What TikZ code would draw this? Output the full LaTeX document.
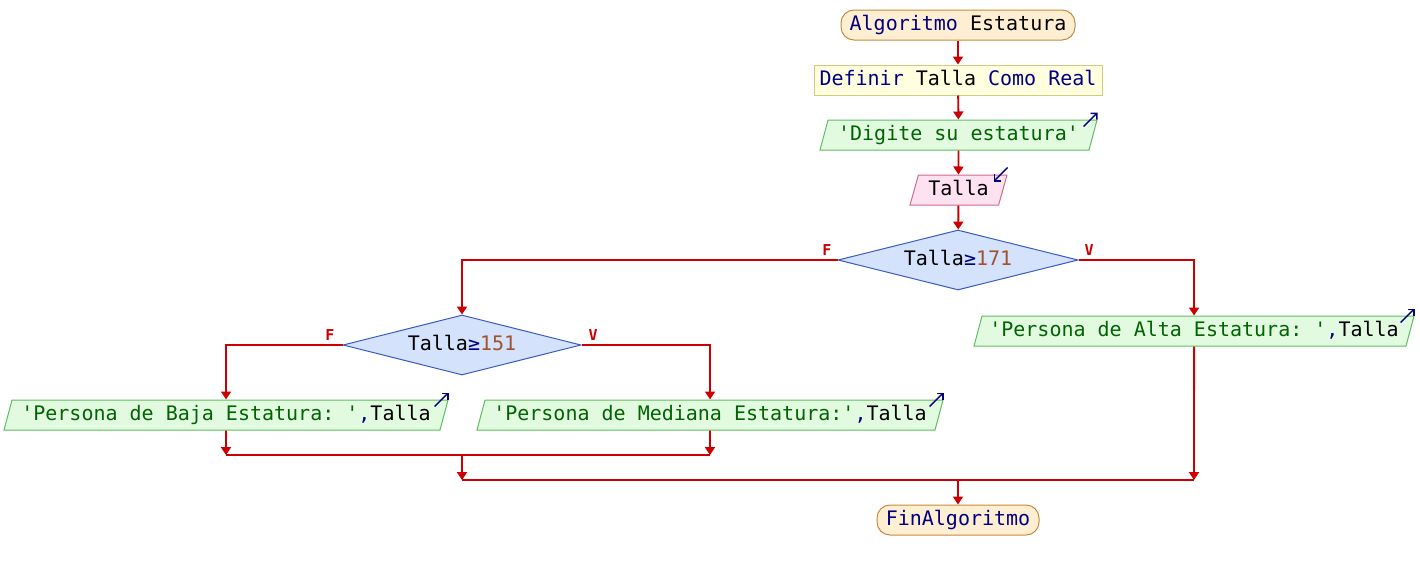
\documentclass[tikz,border=0pt]{standalone}
\usepackage{fontspec}
\setmonofont{DejaVu Sans Mono}
\usetikzlibrary{shapes.geometric,arrows.meta}
\definecolor{kw}{HTML}{000080}
\definecolor{str}{HTML}{006400}
\definecolor{num}{HTML}{A0522D}
\definecolor{flowc}{HTML}{CC0000}
\definecolor{termf}{HTML}{FFEFD2}
\definecolor{termd}{HTML}{C8893A}
\definecolor{procf}{HTML}{FFFFE0}
\definecolor{procd}{HTML}{D0CC80}
\definecolor{outf}{HTML}{E2FBE0}
\definecolor{outd}{HTML}{5EBE5E}
\definecolor{inpf}{HTML}{FFE2F0}
\definecolor{inpd}{HTML}{D06A90}
\definecolor{decf}{HTML}{D4E2FC}
\definecolor{decd}{HTML}{3A5AC8}
\tikzset{
  base/.style={font=\ttfamily\fontsize{20}{24}\selectfont, inner sep=0pt, text height=14pt, text depth=4pt, line width=1pt},
  term/.style={base, draw=termd, fill=termf, rounded corners=13pt, minimum height=30pt},
  proc/.style={base, draw=procd, fill=procf, minimum height=30pt},
  outp/.style={base, trapezium, trapezium left angle=66, trapezium right angle=114, trapezium stretches body, draw=outd, fill=outf, minimum height=30pt},
  inp/.style={base, trapezium, trapezium left angle=65, trapezium right angle=115, trapezium stretches body, draw=inpd, fill=inpf, minimum height=30pt},
  dec/.style={base, diamond, aspect=4, draw=decd, fill=decf, minimum width=240pt, minimum height=60pt},
  flow/.style={draw=flowc, line width=1.9pt, -{Triangle[width=10pt,length=8pt]}},
  plain/.style={draw=flowc, line width=1.9pt},
  lbl/.style={text=flowc, font=\ttfamily\bfseries\fontsize{15}{15}\selectfont, inner sep=0pt},
  icon/.style={draw=kw, line width=1.5pt, -{Straight Barb[length=4.5pt,width=9pt]}},
}
\begin{document}
\begin{tikzpicture}[x=1pt,y=-1pt]
\useasboundingbox (0,0) rectangle (1420,570);

\node[term, minimum width=234pt] (start) at (958,25) {\textcolor{kw}{Algoritmo} Estatura};
\node[proc, minimum width=288pt] (def) at (958,80) {\textcolor{kw}{Definir} Talla \textcolor{kw}{Como Real}};
\node[outp, minimum width=277pt] (out1) at (958.5,135) {\textcolor{str}{'Digite su estatura'}};
\node[inp, minimum width=97pt] (in1) at (958.5,190) {Talla};
\node[dec] (d1) at (958,260) {Talla\textcolor{kw}{≥}\textcolor{num}{171}};
\node[outp, minimum width=440pt] (alta) at (1194,331) {\textcolor{str}{'Persona de Alta Estatura: '}\textcolor{kw}{,}Talla};
\node[dec, minimum width=238pt] (d2) at (462,345) {Talla\textcolor{kw}{≥}\textcolor{num}{151}};
\node[outp, minimum width=444pt] (baja) at (226,415) {\textcolor{str}{'Persona de Baja Estatura: '}\textcolor{kw}{,}Talla};
\node[outp, minimum width=466pt] (med) at (710,415) {\textcolor{str}{'Persona de Mediana Estatura:'}\textcolor{kw}{,}Talla};
\node[term, minimum width=162pt] (fin) at (958,520) {\textcolor{kw}{FinAlgoritmo}};

% io icons
\draw[icon] ([shift={(-14,7)}]out1.top right corner) -- ([shift={(0,-7)}]out1.top right corner);
\draw[icon] ([shift={(-14,7)}]alta.top right corner) -- ([shift={(0,-7)}]alta.top right corner);
\draw[icon] ([shift={(-14,7)}]baja.top right corner) -- ([shift={(0,-7)}]baja.top right corner);
\draw[icon] ([shift={(-14,7)}]med.top right corner) -- ([shift={(0,-7)}]med.top right corner);
\draw[icon] ([shift={(0,-7)}]in1.top right corner) -- ([shift={(-14,7)}]in1.top right corner);

% junction coordinates
\coordinate (m1) at (462,455);
\coordinate (m1l) at (226,455);
\coordinate (m1r) at (710,455);
\coordinate (m2) at (958,480);
\coordinate (m2l) at (462,480);
\coordinate (m2r) at (1194,480);

% connectors
\draw[flow] (start) -- (def);
\draw[flow] (def) -- (out1);
\draw[flow] (out1) -- (in1);
\draw[flow] (in1) -- (d1);
\draw[flow] (d1.west) -| (d2.north);
\draw[flow] (d1.east) -| (alta.north);
\draw[flow] (d2.west) -| (baja.north);
\draw[flow] (d2.east) -| (med.north);
\draw[flow] (baja.south) -- (m1l);
\draw[flow] (med.south) -- (m1r);
\draw[plain] (m1l) -- (m1r);
\draw[flow] (m1) -- (m2l);
\draw[flow] (alta.south) -- (m2r);
\draw[plain] (m2l) -- (m2r);
\draw[flow] (m2) -- (fin);

% labels
\node[lbl, anchor=south east] (f1) at ([shift={(-6,-4)}]d1.west) {F};
\node[lbl, anchor=south west] (v1) at ([shift={(6,-4)}]d1.east) {V};
\node[lbl, anchor=south east] (f2) at ([shift={(-8,-4)}]d2.west) {F};
\node[lbl, anchor=south west] (v2) at ([shift={(7,-4)}]d2.east) {V};
\end{tikzpicture}
\end{document}
